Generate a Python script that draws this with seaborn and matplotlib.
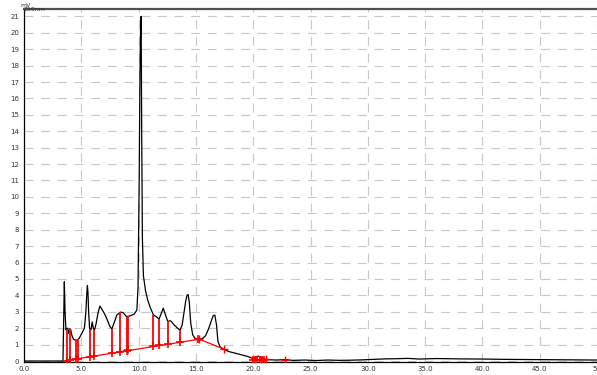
import matplotlib
matplotlib.use("Agg")
import matplotlib.pyplot as plt
from matplotlib.ticker import MultipleLocator, FixedLocator
import seaborn as sns
import pandas as pd

# ---- data ----
time_min = [0, 1, 2, 3, 3.40, 3.45, 3.52, 3.58, 3.66, 3.75, 3.82, 3.90, 4.00, 4.08, 4.17,
            4.32, 4.50, 4.65, 4.81, 5.04, 5.27, 5.40, 5.47, 5.53, 5.58, 5.64, 5.72, 5.85,
            5.95, 6.05, 6.15, 6.30, 6.45, 6.62, 6.80, 7.05, 7.30, 7.50, 7.66, 7.85, 8.10,
            8.40, 8.65, 8.95, 9.25, 9.60, 9.85, 9.95, 10.05, 10.12, 10.18, 10.22, 10.27,
            10.33, 10.42, 10.60, 10.80, 11.05, 11.30, 11.55, 11.78, 11.95, 12.15, 12.35,
            12.54, 12.80, 13.10, 13.40, 13.62, 13.80, 13.95, 14.10, 14.22, 14.32, 14.42,
            14.55, 14.72, 14.90, 15.10, 15.35, 15.60, 15.85, 16.10, 16.30, 16.50, 16.65,
            16.80, 16.92, 17.10, 17.40, 17.90, 18.70, 19.50, 20.00, 20.25, 20.45, 20.65,
            20.90, 21.30, 22.00, 22.80, 23.50, 24.5, 25.5, 26.5, 27.5, 28.5, 29.5, 30.5,
            31.5, 32.5, 33.5, 34.5, 36, 38, 40, 42, 44, 46, 48, 50]
signal_mv = [0.0, 0.0, 0.0, 0.0, 0.0, 2.0, 4.83, 3.0, 1.9, 1.98, 2.0, 1.68, 1.98, 1.9, 1.58,
             1.32, 1.27, 1.28, 1.38, 1.68, 2.0, 3.0, 4.0, 4.6, 4.2, 3.0, 2.0, 1.9,
             2.38, 2.0, 1.88, 2.3, 2.9, 3.35, 3.15, 2.85, 2.45, 2.1, 1.95, 2.3, 2.8,
             2.98, 2.95, 2.7, 2.75, 2.85, 3.1, 4.5, 11.0, 17.5, 20.8, 21.0, 14.0,
             7.5, 5.2, 4.3, 3.7, 3.2, 2.8, 2.7, 2.55, 2.85, 3.22, 2.8,
             2.42, 2.45, 2.2, 2.0, 1.88, 2.2, 2.9, 3.6, 4.0, 4.05, 3.6,
             2.3, 1.6, 1.4, 1.32, 1.28, 1.38, 1.55, 1.95, 2.35, 2.75, 2.8,
             2.2, 1.2, 0.87, 0.72, 0.57, 0.43, 0.28, 0.15, 0.25, 0.3, 0.22,
             0.1, 0.08, 0.06, 0.08, 0.04, 0.06, 0.03, 0.06, 0.04, 0.05, 0.07, 0.1,
             0.13, 0.14, 0.16, 0.12, 0.15, 0.13, 0.12, 0.1, 0.09, 0.08, 0.07, 0.06]

# integration drop lines (time, baseline value, signal value)
drop_t = [3.72, 4.01, 4.54, 4.74, 5.78, 6.14, 7.66, 8.38, 8.96, 9.07, 11.29, 11.78,
          12.54, 13.61, 15.2, 19.95, 20.15, 20.35, 20.55, 20.75, 20.95]
drop_base = [0.03, 0.07, 0.13, 0.15, 0.27, 0.31, 0.49, 0.57, 0.64, 0.65, 0.90, 0.96,
             1.05, 1.17, 1.35, 0.08, 0.08, 0.08, 0.08, 0.08, 0.08]
drop_top = [1.97, 1.97, 1.27, 1.33, 1.95, 1.88, 1.95, 2.98, 2.7, 2.72, 2.8, 2.55,
            2.42, 1.88, 1.3, 0.17, 0.22, 0.28, 0.29, 0.24, 0.18]

# integration baselines
base_t = [3.6, 15.3, 17.45]
base_v = [0.02, 1.33, 0.72]

# extra baseline markers
mark_t = [15.3, 17.45, 21.1, 22.8]
mark_v = [1.33, 0.72, 0.1, 0.05]

x_ticks = [0, 5, 10, 15, 20, 25, 30, 35, 40, 45, 50]
x_tick_labels = ["0.0", "5.0", "10.0", "15.0", "20.0", "25.0", "30.0", "35.0",
                 "40.0", "45.0", "50"]
y_ticks = list(range(0, 22))

# ---- figure ----
sns.set_style("white")
plt.rcParams["font.family"] = ["DejaVu Sans"]

fig = plt.figure(figsize=(5.97, 3.75), dpi=100)
ax = fig.add_axes([24 / 597, 13 / 375, 573 / 597, 353 / 375])

df = pd.DataFrame({"t": time_min, "mv": signal_mv})
sns.lineplot(data=df, x="t", y="mv", ax=ax, color="black", lw=0.9,
             estimator=None, sort=False, zorder=3)

red = "#ff0000"
ax.vlines(drop_t, drop_base, drop_top, color=red, lw=1.3, zorder=4)
ax.plot(base_t, base_v, color=red, lw=0.9, zorder=4)
ax.plot(drop_t, drop_base, ls="none", marker="+", ms=6, mew=1.2, color=red, zorder=5)
ax.plot(mark_t, mark_v, ls="none", marker="+", ms=6, mew=1.0, color=red, zorder=5)

ax.set_xlim(0, 50)
ax.set_ylim(-0.06, 21.45)

ax.xaxis.set_major_locator(FixedLocator(x_ticks))
ax.set_xticklabels(x_tick_labels)
ax.xaxis.set_minor_locator(MultipleLocator(1))
ax.yaxis.set_major_locator(FixedLocator(y_ticks))
ax.set_yticklabels([str(v) for v in y_ticks])
ax.yaxis.set_minor_locator(MultipleLocator(0.2))

ax.tick_params(axis="both", which="major", labelsize=5, length=2.5, width=0.7,
               direction="out", pad=1, colors="black")
ax.tick_params(axis="both", which="minor", length=1.5, width=0.5, direction="out")
ax.tick_params(axis="x", which="major", labelcolor="#333333", pad=0.5)
ax.tick_params(axis="y", which="major", labelcolor="#333333")

ax.grid(True, which="major", color="#c8c8c8", ls=(0, (8, 7)), lw=0.8)
ax.set_axisbelow(True)

ax.spines["left"].set_color("black")
ax.spines["left"].set_linewidth(0.9)
ax.spines["bottom"].set_color("black")
ax.spines["bottom"].set_linewidth(0.9)
ax.spines["top"].set_color("#505050")
ax.spines["top"].set_linewidth(1.6)
ax.spines["right"].set_visible(False)

ax.set_xlabel("")
ax.set_ylabel("")

fig.text(20 / 597, 1 - 8 / 375, "mV", fontsize=4.5, color="#333333", ha="left", va="bottom")
fig.text(24 / 597, 1 - 12 / 375, "250nm", fontsize=4.5, color="#333333", ha="left", va="bottom")

fig.savefig("out.png", dpi=100)
